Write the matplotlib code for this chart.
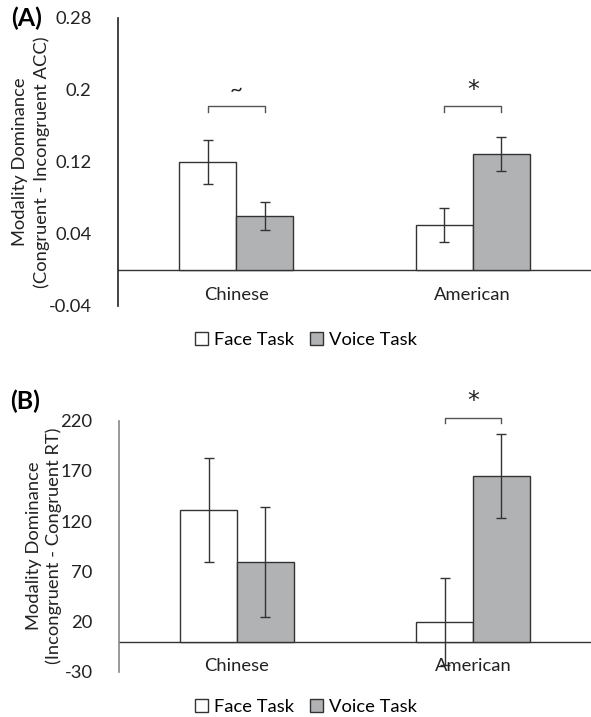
import matplotlib
matplotlib.use("Agg")
import matplotlib.pyplot as plt
from matplotlib.patches import Patch

plt.rcParams['font.family'] = ['Lato', 'DejaVu Sans']

categories = ["Chinese", "American"]
series = ["Face Task", "Voice Task"]

acc_face = [0.12, 0.05]
acc_voice = [0.06, 0.129]
acc_face_err = [0.024, 0.019]
acc_voice_err = [0.016, 0.019]
acc_ticks = [-0.04, 0.04, 0.12, 0.2, 0.28]
acc_ticklabels = ["-0.04", "0.04", "0.12", "0.2", "0.28"]
acc_sig = ["~", "*"]

rt_face = [131, 20]
rt_voice = [79, 165]
rt_face_err = [52, 43]
rt_voice_err = [55, 42]
rt_ticks = [-30, 20, 70, 120, 170, 220]
rt_ticklabels = ["-30", "20", "70", "120", "170", "220"]
rt_sig = [None, "*"]

W, H = 591, 717
fig = plt.figure(figsize=(W / 100, H / 100), dpi=100)

face_color = "white"
voice_color = "#b1b2b4"
edge = "#333333"
bw = 0.24
FS = 13.2


def px_axes(left, top, right, bottom):
    return fig.add_axes([left / W, 1 - bottom / H, (right - left) / W, (bottom - top) / H])


def panel(ax, face, voice, ferr, verr, ylim, ticks, ticklabels, sig, brk_y, brk_d, star_y, cat_y, spine_color):
    x = list(range(len(categories)))
    xf = [i - bw / 2 for i in x]
    xv = [i + bw / 2 for i in x]
    ax.bar(xf, face, bw, color=face_color, edgecolor=edge, linewidth=1.0, zorder=2)
    ax.bar(xv, voice, bw, color=voice_color, edgecolor=edge, linewidth=1.0, zorder=2)
    ekw = dict(fmt="none", ecolor="#333333", elinewidth=1.0, capsize=3.5, capthick=1.0, zorder=3)
    ax.errorbar(xf, face, yerr=ferr, **ekw)
    ax.errorbar(xv, voice, yerr=verr, **ekw)
    ax.axhline(0, color="#333333", linewidth=1.0, zorder=1)
    ax.set_xlim(-0.5, 1.5)
    ax.set_ylim(*ylim)
    ax.set_yticks(ticks)
    ax.set_yticklabels(ticklabels)
    ax.tick_params(axis="y", length=0, pad=19, labelsize=FS, labelcolor="#222222")
    ax.set_xticks([])
    for s in ["top", "right", "bottom"]:
        ax.spines[s].set_visible(False)
    ax.spines["left"].set_color(spine_color)
    ax.spines["left"].set_linewidth(1.2)
    ax.patch.set_alpha(0)
    for i, c in enumerate(categories):
        ax.text(i, cat_y, c, ha="center", va="center", fontsize=FS, color="#222222")
    for i, s in enumerate(sig):
        if s is None:
            continue
        x0, x1 = xf[i], xv[i]
        ax.plot([x0, x0, x1, x1], [brk_y - brk_d, brk_y, brk_y, brk_y - brk_d],
                color="#555555", linewidth=1.0, clip_on=False)
        if s == "*":
            ax.text((x0 + x1) / 2, star_y, s, ha="center", va="center", fontsize=17,
                    color="#222222", family="DejaVu Sans")
        else:
            ax.text((x0 + x1) / 2, star_y, s, ha="center", va="center", fontsize=16,
                    color="#222222")


axA = px_axes(118, 18, 591, 306)
panel(axA, acc_face, acc_voice, acc_face_err, acc_voice_err, (-0.04, 0.28),
      acc_ticks, acc_ticklabels, acc_sig, 0.182, 0.006, 0.2, -0.028, "#222222")

axB = px_axes(119, 420.7, 591, 671.7)
panel(axB, rt_face, rt_voice, rt_face_err, rt_voice_err, (-30, 220),
      rt_ticks, rt_ticklabels, rt_sig, 223, 5, 240, -24.5, "#888888")

handles = [Patch(facecolor=face_color, edgecolor=edge, linewidth=1.0),
           Patch(facecolor=voice_color, edgecolor=edge, linewidth=1.0)]
for yc in [340, 706.5]:
    fig.legend(handles, series, loc="center", bbox_to_anchor=(0.518, 1 - yc / H),
               ncol=2, frameon=False, fontsize=FS, handlelength=0.7, handleheight=0.7,
               handletextpad=0.3, columnspacing=0.9, borderpad=0)

fig.text(31 / W, 1 - 162 / H, "Modality Dominance\n(Congruent - Incongruent ACC)",
         rotation=90, ha="center", va="center", multialignment="center", fontsize=FS,
         color="#222222", linespacing=1.4)
fig.text(44 / W, 1 - 546 / H, "Modality Dominance\n(Incongruent - Congruent RT)",
         rotation=90, ha="center", va="center", multialignment="center", fontsize=FS,
         color="#222222", linespacing=1.2)

fig.text(27 / W, 1 - 18 / H, "(A)", ha="center", va="center", fontsize=18, fontweight="bold")
fig.text(25 / W, 1 - 401 / H, "(B)", ha="center", va="center", fontsize=18, fontweight="bold")

fig.savefig("out.png", dpi=100, facecolor="white")
